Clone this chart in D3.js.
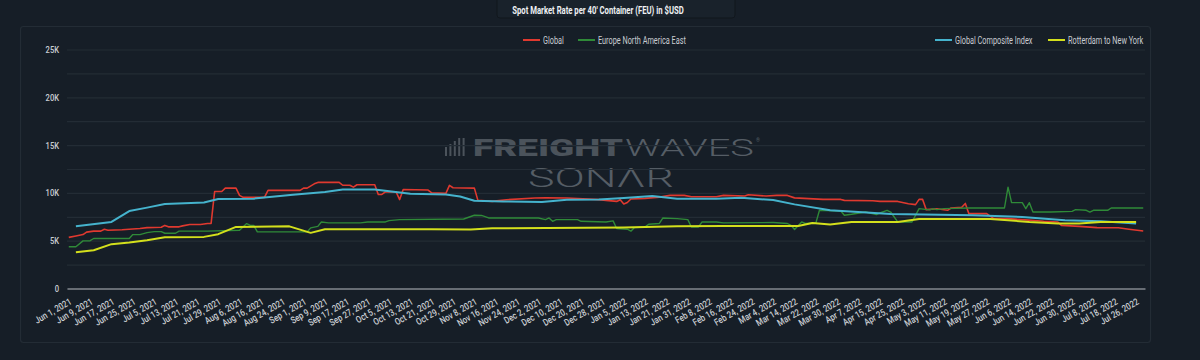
<!DOCTYPE html>
<html><head><meta charset="utf-8">
<script src="https://cdn.jsdelivr.net/npm/d3@7"></script>
<style>body{margin:0;background:#161e27;} svg{display:block}</style>
</head><body>
<script>
// ---------------- DATA ----------------
const chartTitle = "Spot Market Rate per 40' Container (FEU) in $USD";
const dateRange = ["2021-06-01", "2022-07-28"]; // weekday categories
const seriesNames = ["Global", "Europe North America East", "Global Composite Index", "Rotterdam to New York"];
const yTicks = [0, 2500, 5000, 7500, 10000, 12500, 15000, 17500, 20000, 22500, 25000];
const xTickLabels = ["Jun 1, 2021","Jun 9, 2021","Jun 17, 2021","Jun 25, 2021","Jul 5, 2021","Jul 13, 2021","Jul 21, 2021","Jul 29, 2021","Aug 6, 2021","Aug 16, 2021","Aug 24, 2021","Sep 1, 2021","Sep 9, 2021","Sep 17, 2021","Sep 27, 2021","Oct 5, 2021","Oct 13, 2021","Oct 21, 2021","Oct 29, 2021","Nov 8, 2021","Nov 16, 2021","Nov 24, 2021","Dec 2, 2021","Dec 10, 2021","Dec 20, 2021","Dec 28, 2021","Jan 5, 2022","Jan 13, 2022","Jan 21, 2022","Jan 31, 2022","Feb 8, 2022","Feb 16, 2022","Feb 24, 2022","Mar 4, 2022","Mar 14, 2022","Mar 22, 2022","Mar 30, 2022","Apr 7, 2022","Apr 15, 2022","Apr 25, 2022","May 3, 2022","May 11, 2022","May 19, 2022","May 27, 2022","Jun 6, 2022","Jun 14, 2022","Jun 22, 2022","Jun 30, 2022","Jul 8, 2022","Jul 18, 2022","Jul 26, 2022"];

const globalRate = [["2021-06-01",5350],["2021-06-03",5500],["2021-06-07",5640],["2021-06-08",5900],["2021-06-10",6000],["2021-06-14",6000],["2021-06-15",6200],["2021-06-16",6100],["2021-06-22",6150],["2021-06-29",6270],["2021-07-01",6370],["2021-07-07",6400],["2021-07-08",6600],["2021-07-09",6450],["2021-07-14",6450],["2021-07-15",6550],["2021-07-19",6700],["2021-07-22",6700],["2021-07-26",6800],["2021-07-27",6800],["2021-07-28",10150],["2021-07-30",10150],["2021-08-02",10500],["2021-08-05",10500],["2021-08-06",9740],["2021-08-09",9530],["2021-08-17",9530],["2021-08-18",10260],["2021-08-31",10260],["2021-09-01",10500],["2021-09-02",10500],["2021-09-06",10950],["2021-09-07",11100],["2021-09-15",11100],["2021-09-16",10800],["2021-09-20",10800],["2021-09-21",10600],["2021-09-22",10850],["2021-09-29",10850],["2021-09-30",9840],["2021-10-01",9840],["2021-10-04",10100],["2021-10-07",10100],["2021-10-08",9300],["2021-10-11",10360],["2021-10-20",10300],["2021-10-21",10000],["2021-10-27",9950],["2021-10-28",10780],["2021-10-29",10540],["2021-11-08",10500],["2021-11-09",9220],["2021-11-15",9110],["2021-11-19",9290],["2021-12-01",9460],["2021-12-06",9500],["2021-12-14",9460],["2021-12-27",9300],["2021-12-29",9220],["2022-01-03",9110],["2022-01-04",9290],["2022-01-05",8840],["2022-01-06",9000],["2022-01-07",9360],["2022-01-13",9430],["2022-01-19",9560],["2022-01-24",9740],["2022-01-28",9740],["2022-02-01",9600],["2022-02-10",9600],["2022-02-14",9740],["2022-02-22",9670],["2022-02-23",9800],["2022-03-02",9670],["2022-03-07",9740],["2022-03-10",9740],["2022-03-14",9480],["2022-03-24",9320],["2022-03-31",9320],["2022-04-01",9220],["2022-04-13",9180],["2022-04-15",9110],["2022-04-22",9110],["2022-04-27",8870],["2022-04-29",8770],["2022-05-02",9320],["2022-05-03",9320],["2022-05-04",8250],["2022-05-09",8350],["2022-05-12",8180],["2022-05-13",8420],["2022-05-18",8490],["2022-05-19",8900],["2022-05-20",7830],["2022-05-27",7830],["2022-05-31",7310],["2022-06-06",7310],["2022-06-10",7200],["2022-06-20",7030],["2022-06-24",6960],["2022-06-27",6600],["2022-07-04",6500],["2022-07-11",6370],["2022-07-19",6350],["2022-07-22",6200],["2022-07-28",6020]];

const europeNAE = [["2021-06-01",4360],["2021-06-03",4360],["2021-06-07",4980],["2021-06-09",5000],["2021-06-10",5230],["2021-06-24",5230],["2021-06-25",5640],["2021-06-29",5640],["2021-07-01",5850],["2021-07-05",5950],["2021-07-07",5950],["2021-07-08",5780],["2021-07-13",5780],["2021-07-14",6000],["2021-07-26",6000],["2021-08-06",6100],["2021-08-10",6790],["2021-08-11",6600],["2021-08-12",6600],["2021-08-13",5920],["2021-09-02",5920],["2021-09-03",6340],["2021-09-07",6500],["2021-09-08",6960],["2021-09-10",6860],["2021-09-23",6860],["2021-09-27",6960],["2021-10-04",6960],["2021-10-05",7100],["2021-10-08",7200],["2021-11-03",7270],["2021-11-08",7660],["2021-11-10",7640],["2021-11-12",7380],["2021-12-02",7380],["2021-12-06",7200],["2021-12-07",7380],["2021-12-08",7030],["2021-12-09",7200],["2021-12-17",7200],["2021-12-20",7030],["2021-12-29",6960],["2021-12-31",7070],["2022-01-03",6270],["2022-01-06",6200],["2022-01-07",6000],["2022-01-10",6370],["2022-01-13",6440],["2022-01-14",6720],["2022-01-19",6800],["2022-01-20",7380],["2022-01-26",7310],["2022-01-31",7200],["2022-02-01",6440],["2022-02-03",6440],["2022-02-04",6960],["2022-02-10",6960],["2022-02-14",6860],["2022-03-04",6900],["2022-03-10",6800],["2022-03-11",6600],["2022-03-14",6170],["2022-03-16",6960],["2022-03-17",6800],["2022-03-22",6860],["2022-03-23",8180],["2022-03-31",8100],["2022-04-01",7660],["2022-04-05",7760],["2022-04-11",8000],["2022-04-14",7730],["2022-04-15",7900],["2022-04-19",8180],["2022-04-20",8000],["2022-04-22",6960],["2022-04-28",6960],["2022-05-02",8350],["2022-05-05",8220],["2022-05-06",8350],["2022-05-09",8250],["2022-05-11",8350],["2022-05-20",8420],["2022-06-03",8420],["2022-06-06",10600],["2022-06-07",8980],["2022-06-10",8980],["2022-06-13",8350],["2022-06-14",8980],["2022-06-15",8000],["2022-06-22",8000],["2022-06-30",8070],["2022-07-01",8250],["2022-07-06",8180],["2022-07-07",8000],["2022-07-08",8180],["2022-07-14",8180],["2022-07-15",8420],["2022-07-28",8420]];

const globalComposite = [["2021-06-03",6500],["2021-06-17",6960],["2021-06-24",8100],["2021-07-01",8460],["2021-07-08",8840],["2021-07-23",9000],["2021-07-29",9360],["2021-08-12",9400],["2021-08-27",9800],["2021-09-09",10100],["2021-09-16",10360],["2021-09-29",10360],["2021-10-13",9900],["2021-10-27",9840],["2021-11-02",9630],["2021-11-08",9180],["2021-11-18",9110],["2021-12-03",9040],["2021-12-14",9290],["2021-12-27",9320],["2022-01-05",9460],["2022-01-17",9670],["2022-01-26",9390],["2022-02-10",9390],["2022-02-21",9500],["2022-03-04",9250],["2022-03-14",8800],["2022-03-28",8180],["2022-04-20",7800],["2022-05-23",7660],["2022-06-10",7480],["2022-06-28",7140],["2022-07-12",7030],["2022-07-26",6790]];

const rotterdamNY = [["2021-06-03",3800],["2021-06-10",4000],["2021-06-17",4640],["2021-06-24",4810],["2021-07-01",5050],["2021-07-08",5360],["2021-07-23",5400],["2021-07-29",5680],["2021-08-05",6440],["2021-08-26",6500],["2021-09-03",5820],["2021-09-09",6200],["2021-10-21",6200],["2021-11-05",6170],["2021-11-15",6300],["2022-01-05",6370],["2022-01-26",6500],["2022-02-14",6550],["2022-03-15",6540],["2022-03-21",6850],["2022-03-28",6690],["2022-04-05",6960],["2022-04-22",6960],["2022-05-02",7270],["2022-05-30",7270],["2022-06-06",7140],["2022-06-14",6960],["2022-06-24",6790],["2022-07-04",6790],["2022-07-12",6960],["2022-07-26",6960]];

const seriesColors = ["#e0392f", "#2f8a38", "#45b3cd", "#d3df1c"];
const seriesWidths = [1.6, 1.4, 2, 2];

// ---------------- CHART ----------------
const W = 1200, H = 360;
const M = {left: 67, right: 1145, top: 49.5, bottom: 288.5};
const textCol = "#c9cdd2";
const parseISO = d3.utcParse("%Y-%m-%d");
const parseLabel = d3.utcParse("%b %d, %Y");
const start = parseISO(dateRange[0]);
function wdIndex(date) {
  return d3.utcDay.range(start, date).filter(d => d.getUTCDay() % 6 !== 0).length;
}
const nCat = wdIndex(parseISO(dateRange[1])) + 1;

const x = d3.scaleLinear().domain([-0.5, nCat - 0.5]).range([M.left, M.right]);
const y = d3.scaleLinear().domain([0, 25000]).range([M.bottom, M.top]);

const svg = d3.select("body").append("svg").attr("width", W).attr("height", H)
  .style("font-family", "Roboto, 'Noto Sans', sans-serif");

svg.append("rect").attr("width", W).attr("height", H).attr("fill", "#161e27");
// card
svg.append("rect").attr("x", 20.5).attr("y", 26.5).attr("width", 1130).attr("height", 316)
  .attr("rx", 3).attr("fill", "#161e27").attr("stroke", "#232c35").attr("stroke-width", 1.2);

function condense(sel, f) {
  sel.each(function () {
    const L = this.getComputedTextLength();
    this.setAttribute("textLength", L * f);
    this.setAttribute("lengthAdjust", "spacingAndGlyphs");
  });
}

// title box
svg.append("rect").attr("x", 497).attr("y", -4).attr("width", 238).attr("height", 22)
  .attr("rx", 3).attr("fill", "#19222b").attr("stroke", "#11171d").attr("stroke-width", 1);
const title = svg.append("text").attr("x", 598).attr("y", 14).attr("text-anchor", "middle")
  .attr("fill", "#eef0f2").attr("font-size", 11).attr("font-weight", 700).text(chartTitle);
condense(title, 0.7);

// watermark
const wm = svg.append("g").attr("fill", "#4b535b");
const bars = [9, 12, 15, 18, 18];
bars.forEach((h, i) => {
  wm.append("rect").attr("x", 445 + i * 4.4).attr("y", 156 - h).attr("width", 2).attr("height", h)
    .attr("fill", "#4b535b");
});
const t1 = wm.append("text").attr("x", 473).attr("y", 156).attr("font-size", 24.5).attr("font-weight", 900)
  .text("FREIGHT");
t1.attr("textLength", 150).attr("lengthAdjust", "spacingAndGlyphs");
const t2 = wm.append("text").attr("x", 625).attr("y", 156).attr("font-size", 24.5).attr("font-weight", 300)
  .attr("fill", "#555d65").text("WAVES");
t2.attr("textLength", 129).attr("lengthAdjust", "spacingAndGlyphs");
wm.append("text").attr("x", 756).attr("y", 142).attr("font-size", 5).attr("fill", "#555d65").text("®");
const t3 = wm.append("text").attr("x", 528).attr("y", 187).attr("font-size", 26).attr("font-weight", 300)
  .attr("fill", "#555d65").text("SONΛR");
t3.attr("textLength", 146).attr("lengthAdjust", "spacingAndGlyphs");

// y grid + labels
const yAxis = svg.append("g").attr("transform", `translate(${M.left},0)`)
  .call(d3.axisLeft(y).tickValues(yTicks).tickSize(-(M.right - M.left)).tickPadding(8)
    .tickFormat(d => d % 5000 === 0 ? (d === 0 ? "0" : d / 1000 + "K") : ""));
yAxis.select(".domain").remove();
yAxis.selectAll(".tick line").attr("stroke", "#232c35").attr("stroke-width", 1.2);
yAxis.selectAll(".tick text").attr("fill", textCol).attr("font-size", 9.5).attr("font-weight", 500)
  .attr("font-family", "Roboto");
condense(yAxis.selectAll(".tick text").filter(function () { return this.textContent !== ""; }), 0.8);

// x axis
const tickIdx = xTickLabels.map(l => wdIndex(parseLabel(l)));
const labelOf = new Map(tickIdx.map((v, i) => [v, xTickLabels[i]]));
const xAxis = svg.append("g").attr("transform", `translate(0,${M.bottom})`)
  .call(d3.axisBottom(x).tickValues(tickIdx).tickFormat(i => labelOf.get(i)).tickSize(0).tickSizeOuter(0));
xAxis.select(".domain").attr("stroke", "#80868d").attr("stroke-width", 1.6);
xAxis.selectAll(".tick text").attr("fill", textCol).attr("font-size", 9.5).attr("font-weight", 500)
  .attr("font-family", "Roboto").attr("text-anchor", "end").attr("y", 0).attr("dy", 0)
  .attr("transform", "translate(3,15) rotate(-30)");
condense(xAxis.selectAll(".tick text"), 0.82);

// lines
const allSeries = [globalRate, europeNAE, globalComposite, rotterdamNY];
const line = d3.line().x(d => x(wdIndex(parseISO(d[0])))).y(d => y(d[1]));
allSeries.forEach((s, i) => {
  svg.append("path").datum(s).attr("d", line).attr("fill", "none")
    .attr("stroke", seriesColors[i]).attr("stroke-width", seriesWidths[i])
    .attr("stroke-linejoin", "round");
});

// legend
const legendX = [523, 578, 935, 1048];
seriesNames.forEach((n, i) => {
  const g = svg.append("g").attr("transform", `translate(${legendX[i]},40)`);
  g.append("line").attr("x1", 0).attr("x2", 17).attr("y1", 0).attr("y2", 0)
    .attr("stroke", seriesColors[i]).attr("stroke-width", 2);
  const t = g.append("text").attr("x", 20).attr("y", 3.5).attr("fill", textCol)
    .attr("font-size", 10).text(n);
  condense(t, 0.73);
});
</script>
</body></html>
